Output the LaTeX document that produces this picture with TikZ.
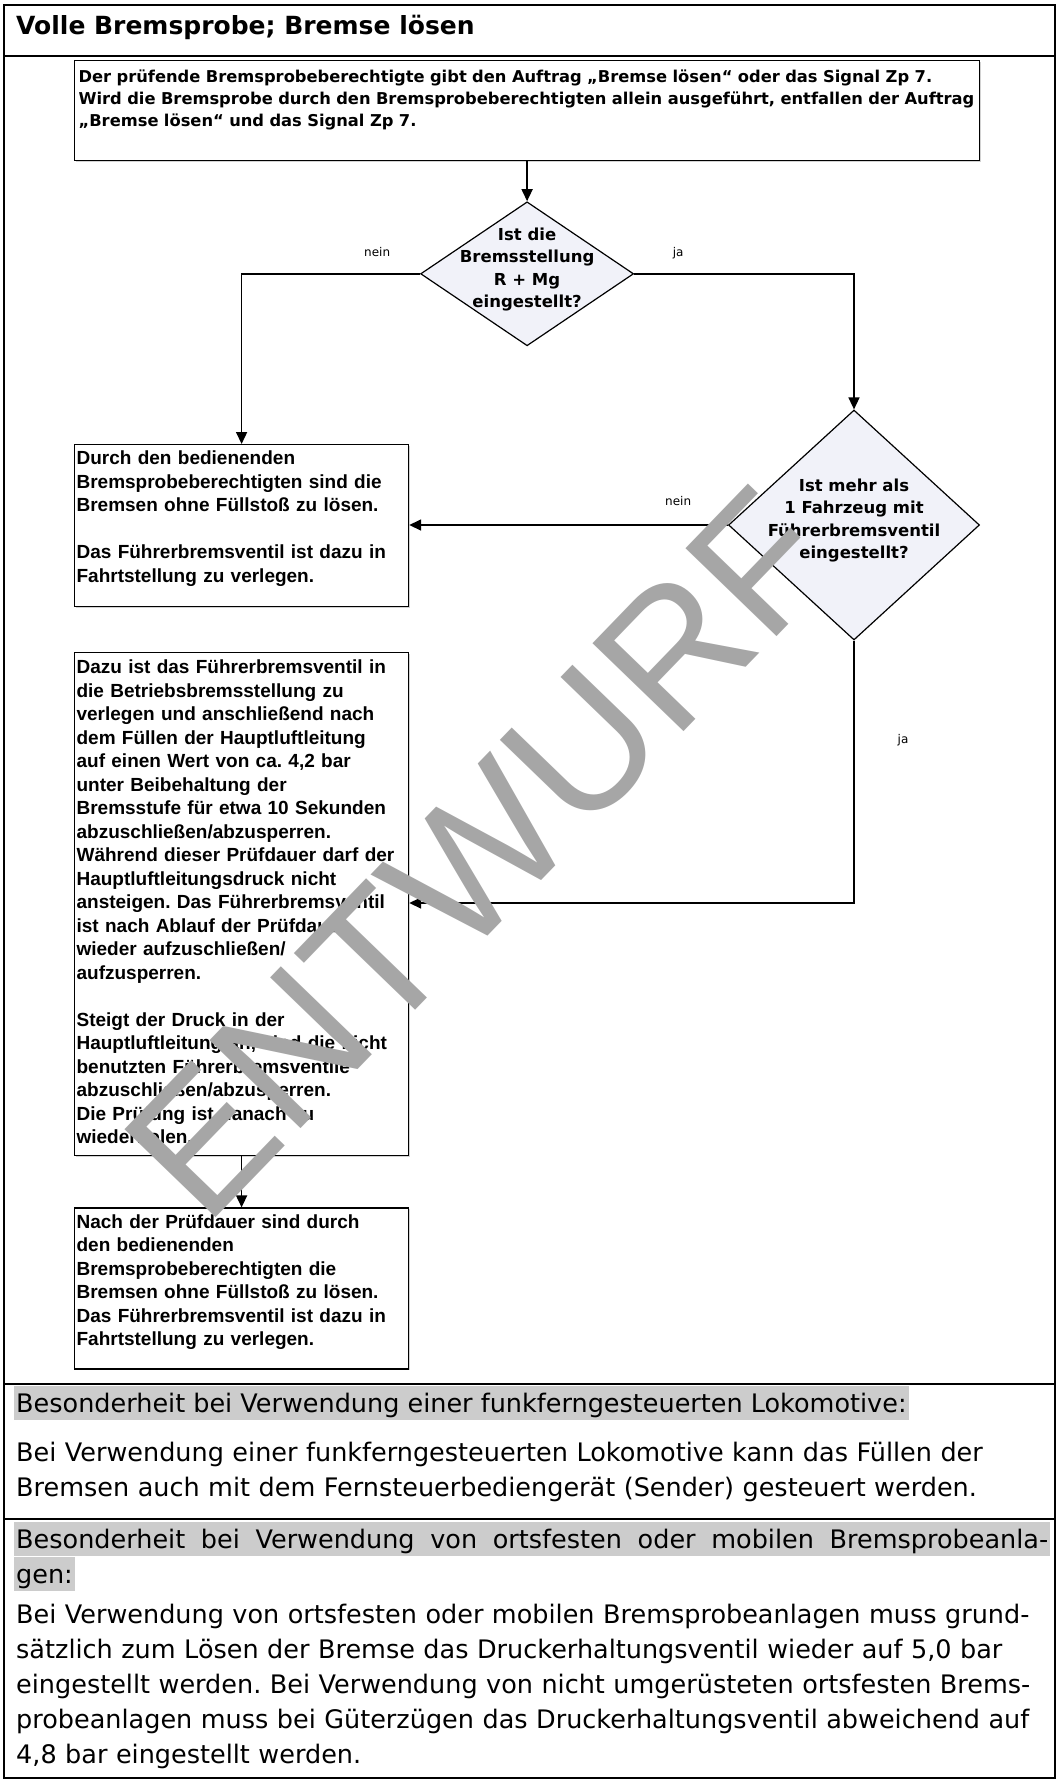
\documentclass[tikz,border=0pt]{standalone}
\usepackage{fontspec}
\setmainfont{DejaVu Sans}
\newfontfamily\arialfont{Liberation Sans}
\usetikzlibrary{shapes,arrows.meta,positioning,shadows}
\definecolor{dmdfill}{RGB}{241,242,249}
\newcommand{\dtext}[1]{\makebox[0pt]{\smash{\begin{tabular}{@{}c@{}}#1\end{tabular}}}}
\frenchspacing

\begin{document}
\begin{tikzpicture}[
    x=1pt, y=-1pt,
    node distance=30pt,
    frameline/.style={line width=2.5pt},
    box/.style={rectangle, draw, fill=white, line width=1.2pt, drop shadow={shadow xshift=1.3pt, shadow yshift=-1.3pt, fill=black!35}, anchor=north west, inner xsep=4pt, inner ysep=0pt, align=left},
    humbox/.style={box, font=\fontsize{16.3}{22}\selectfont\bfseries},
    arialbox/.style={box, inner xsep=2pt, text width=330pt, font=\arialfont\fontsize{19}{23.5}\selectfont\bfseries},
    decision/.style={diamond, draw, line width=1.2pt, fill=dmdfill, inner sep=0pt, font=\fontsize{16.5}{22.5}\selectfont\bfseries},
    edgelabel/.style={inner sep=0pt, font=\fontsize{12}{14}\selectfont},
    arrow/.style={line width=1.6pt, -{Triangle[length=12pt,width=11pt]}},
    band/.style={fill=black!20, anchor=base west, inner xsep=2pt, inner ysep=0pt, text height=26pt, text depth=8pt, font=\fontsize{25.5}{35}\selectfont},
    para/.style={anchor=north west, inner sep=0pt, text width=1032pt, align=left, text height=26pt, font=\fontsize{25.5}{35}\selectfont}
]
\useasboundingbox (0,0) rectangle (1057,1780);

% Frame and rules
\draw[frameline] (4,5) rectangle (1055,1778);
\draw[frameline] (4,56) -- (1055,56);
\draw[frameline] (4,1384) -- (1055,1384);
\draw[frameline] (4,1519) -- (1055,1519);

% Title
\node[anchor=base west, inner sep=0pt, font=\fontsize{25}{30}\selectfont\bfseries] (title) at (16,34) {Volle Bremsprobe; Bremse lösen};

% Order
\node[humbox, text width=897pt, text height=22pt, text depth=78pt] (auftrag) at (74,60) {Der prüfende Bremsprobeberechtigte gibt den Auftrag „Bremse lösen“ oder das Signal Zp 7.\\Wird die Bremsprobe durch den Bremsprobeberechtigten allein ausgeführt, entfallen der Auftrag\\„Bremse lösen“ und das Signal Zp 7.};

% Decisions
\node[decision, minimum width=213pt, minimum height=144pt, below=40pt of auftrag] (bremsst) {\dtext{Ist die\\Bremsstellung\\R + Mg\\eingestellt?}};
\node[decision, minimum width=251pt, minimum height=230pt] (fahrzeug) at (854,525) {\dtext{Ist mehr als\\1 Fahrzeug mit\\Führerbremsventil\\eingestellt?}};

% Actions
\node[arialbox, text height=20pt, text depth=142pt] (ohnefuell) at (74,444) {Durch den bedienenden\\Bremsprobeberechtigten sind die\\Bremsen ohne Füllstoß zu lösen.\\[23.5pt]Das Führerbremsventil ist dazu in\\Fahrtstellung zu verlegen.};
\node[arialbox, text height=21pt, text depth=482pt, below=45pt of ohnefuell] (pruefung) {Dazu ist das Führerbremsventil in\\die Betriebsbremsstellung zu\\verlegen und anschließend nach\\dem Füllen der Hauptluftleitung\\auf einen Wert von ca. 4,2 bar\\unter Beibehaltung der\\Bremsstufe für etwa 10 Sekunden\\abzuschließen/abzusperren.\\Während dieser Prüfdauer darf der\\Hauptluftleitungsdruck nicht\\ansteigen. Das Führerbremsventil\\ist nach Ablauf der Prüfdauer\\wieder aufzuschließen/\\aufzusperren.\\[23.5pt]Steigt der Druck in der\\Hauptluftleitung an, sind die nicht\\benutzten Führerbremsventile\\abzuschließen/abzusperren.\\Die Prüfung ist danach zu\\wiederholen.};
\node[arialbox, text height=20pt, text depth=141pt, below=51pt of pruefung] (loesen) {Nach der Prüfdauer sind durch\\den bedienenden\\Bremsprobeberechtigten die\\Bremsen ohne Füllstoß zu lösen.\\Das Führerbremsventil ist dazu in\\Fahrtstellung zu verlegen.};

% Arrows
\draw[arrow] (auftrag) -- (bremsst);
\draw[arrow] (bremsst.west) -| (ohnefuell.north) node[edgelabel, pos=0.12, yshift=22pt] {nein};
\draw[arrow] (bremsst.east) -| (fahrzeug.north) node[edgelabel, pos=0.10, yshift=21pt] {ja};
\draw[arrow] (fahrzeug.west) -- (ohnefuell.east |- fahrzeug.west) node[edgelabel, pos=0.156, yshift=24pt] {nein};
\draw[arrow] (fahrzeug.south) |- (pruefung.east |- 0,903) node[edgelabel, pos=0.19, xshift=49pt] {ja};
\draw[arrow] (pruefung) -- (loesen);

% Remote controlled locomotive
\node[band] (funkkopf) at (14,1412) {Besonderheit bei Verwendung einer funkferngesteuerten Lokomotive:};
\node[para] (funktext) at (16,1435) {\makebox[1032pt][s]{Bei Verwendung einer funkferngesteuerten Lokomotive kann das Füllen der}\\Bremsen auch mit dem Fernsteuerbediengerät (Sender) gesteuert werden.};

% Brake test plants
\node[band] (anlagekopf) at (14,1548) {\makebox[1032pt][s]{Besonderheit bei Verwendung von ortsfesten oder mobilen Bremsprobeanla-}};
\node[band] (anlagekopfb) at (14,1583) {gen:};
\node[para] (anlagetext) at (16,1597) {\makebox[1032pt][s]{Bei Verwendung von ortsfesten oder mobilen Bremsprobeanlagen muss grund-}\\\makebox[1032pt][s]{sätzlich zum Lösen der Bremse das Druckerhaltungsventil wieder auf 5,0 bar}\\\makebox[1032pt][s]{eingestellt werden. Bei Verwendung von nicht umgerüsteten ortsfesten Brems-}\\\makebox[1032pt][s]{probeanlagen muss bei Güterzügen das Druckerhaltungsventil abweichend auf}\\4,8 bar eingestellt werden.};

% Watermark
\node[rotate=46, text=black!35, font=\arialfont\fontsize{184}{184}\selectfont] (entwurf) at (480,854) {ENTWURF};
\end{tikzpicture}
\end{document}
